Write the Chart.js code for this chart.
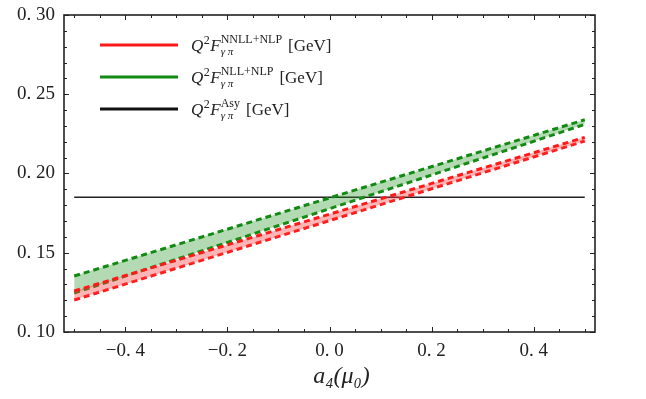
<!DOCTYPE html>
<html>
<head>
<meta charset="utf-8">
<script src="https://cdn.jsdelivr.net/npm/chart.js@4.4.1/dist/chart.umd.min.js"></script>
<style>
  html, body { margin: 0; padding: 0; background: #fff; }
  #grafica { display: block; }
</style>
</head>
<body>
<canvas id="grafica" width="646" height="399"></canvas>
<script>
// valores de a4 (eje x)
const a4Valores = [-0.5, 0, 0.5];
// bandas NNLL+NLP (rojo) y NLL+NLP (verde)
const nnllSuperior = [0.1259, 0.1743, 0.2228];
const nnllInferior = [0.1202, 0.1703, 0.2205];
const nllSuperior = [0.1353, 0.1846, 0.2339];
const nllInferior = [0.1246, 0.1778, 0.2310];
// resultado asintotico
const asyValores = [0.185, 0.185, 0.185];

// ticks
const xTicks = [-0.4, -0.2, 0, 0.2, 0.4];
const xTickEtiquetas = ['\u22120. 4', '\u22120. 2', '0. 0', '0. 2', '0. 4'];
const yTicks = [0.10, 0.15, 0.20, 0.25, 0.30];
const yTickEtiquetas = ['0. 10', '0. 15', '0. 20', '0. 25', '0. 30'];
const xTicksMenores = [-0.5, -0.45, -0.35, -0.3, -0.25, -0.15, -0.1, -0.05, 0.05, 0.1, 0.15, 0.25, 0.3, 0.35, 0.45, 0.5];
const yTicksMenores = [0.11, 0.12, 0.13, 0.14, 0.16, 0.17, 0.18, 0.19, 0.21, 0.22, 0.23, 0.24, 0.26, 0.27, 0.28, 0.29];

// leyenda
const leyendaColores = ['#ff1a1a', '#118a11', '#111111'];
const leyendaSup = ['NNLL+NLP', 'NLL+NLP', 'Asy'];

const fuente = "'Liberation Serif', 'DejaVu Serif', serif";

function puntos(valores) {
    return a4Valores.map((x, i) => ({ x: x, y: valores[i] }));
}

// marco y ticks hacia dentro en los cuatro lados
const marcoPlugin = {
    id: 'marco',
    afterDatasetsDraw(chart) {
        const ctx = chart.ctx;
        const area = chart.chartArea;
        const sx = chart.scales.x;
        const sy = chart.scales.y;
        ctx.save();
        ctx.strokeStyle = '#222';
        ctx.lineWidth = 1;
        const tickX = (v, largo) => {
            const px = Math.round(sx.getPixelForValue(v)) + 0.5;
            ctx.beginPath();
            ctx.moveTo(px, area.bottom); ctx.lineTo(px, area.bottom - largo);
            ctx.moveTo(px, area.top); ctx.lineTo(px, area.top + largo);
            ctx.stroke();
        };
        const tickY = (v, largo) => {
            const py = Math.round(sy.getPixelForValue(v)) + 0.5;
            ctx.beginPath();
            ctx.moveTo(area.left, py); ctx.lineTo(area.left + largo, py);
            ctx.moveTo(area.right, py); ctx.lineTo(area.right - largo, py);
            ctx.stroke();
        };
        xTicks.forEach(v => tickX(v, 5));
        xTicksMenores.forEach(v => tickX(v, 3));
        yTicks.forEach(v => tickY(v, 5));
        yTicksMenores.forEach(v => tickY(v, 3));
        ctx.lineWidth = 1.6;
        ctx.strokeRect(area.left, area.top, area.right - area.left, area.bottom - area.top);
        ctx.restore();
    }
};

// leyenda con super y subindices
const leyendaPlugin = {
    id: 'leyendaMath',
    afterDraw(chart) {
        const ctx = chart.ctx;
        const area = chart.chartArea;
        ctx.save();
        leyendaColores.forEach((color, i) => {
            const y = area.top + 30 + i * 32;
            ctx.strokeStyle = color;
            ctx.lineWidth = 3;
            ctx.beginPath();
            ctx.moveTo(area.left + 36, y);
            ctx.lineTo(area.left + 114, y);
            ctx.stroke();

            let x = area.left + 127;
            const base = y + 6;
            ctx.fillStyle = '#222';
            ctx.textBaseline = 'alphabetic';
            ctx.font = 'italic 17px ' + fuente;
            ctx.fillText('Q', x, base);
            x += ctx.measureText('Q').width + 0.5;
            ctx.font = '12px ' + fuente;
            ctx.fillText('2', x, base - 7);
            x += ctx.measureText('2').width + 0.5;
            ctx.font = 'italic 17px ' + fuente;
            ctx.fillText('F', x, base);
            x += ctx.measureText('F').width;
            ctx.font = '12px ' + fuente;
            ctx.fillText(leyendaSup[i], x, base - 8);
            const anchoSup = ctx.measureText(leyendaSup[i]).width;
            ctx.font = 'italic 11px ' + fuente;
            ctx.fillText('\u03b3 \u03c0', x, base + 4);
            const anchoSub = ctx.measureText('\u03b3 \u03c0').width;
            x += Math.max(anchoSup, anchoSub) + 6;
            ctx.font = '17px ' + fuente;
            ctx.fillText('[GeV]', x, base);
        });
        ctx.restore();
    }
};

const ctx = document.getElementById('grafica').getContext('2d');

new Chart(ctx, {
    type: 'line',
    data: {
        datasets: [
            {
                label: 'NNLL+NLP sup',
                data: puntos(nnllSuperior),
                borderColor: '#ff1a1a',
                borderDash: [6, 4],
                borderWidth: 3,
                backgroundColor: 'rgba(255, 60, 60, 0.38)',
                fill: '+1',
                pointRadius: 0
            },
            {
                label: 'NNLL+NLP inf',
                data: puntos(nnllInferior),
                borderColor: '#ff1a1a',
                borderDash: [6, 4],
                borderWidth: 3,
                fill: false,
                pointRadius: 0
            },
            {
                label: 'NLL+NLP sup',
                data: puntos(nllSuperior),
                borderColor: '#118a11',
                borderDash: [6, 4],
                borderWidth: 3,
                backgroundColor: 'rgba(40, 150, 40, 0.35)',
                fill: '+1',
                pointRadius: 0
            },
            {
                label: 'NLL+NLP inf',
                data: puntos(nllInferior),
                borderColor: '#118a11',
                borderDash: [6, 4],
                borderWidth: 3,
                fill: false,
                pointRadius: 0
            },
            {
                label: 'Asy',
                data: puntos(asyValores),
                borderColor: '#222',
                borderWidth: 1.6,
                fill: false,
                pointRadius: 0
            }
        ]
    },
    options: {
        responsive: false,
        animation: false,
        devicePixelRatio: 1,
        layout: { padding: { top: 15, right: 51, left: 0, bottom: 0 } },
        plugins: {
            legend: { display: false },
            tooltip: { enabled: false }
        },
        scales: {
            x: {
                type: 'linear',
                min: -0.52,
                max: 0.52,
                afterBuildTicks: (scale) => { scale.ticks = xTicks.map(v => ({ value: v })); },
                afterFit: (scale) => { scale.height = 67; },
                ticks: {
                    autoSkip: false,
                    maxRotation: 0,
                    padding: 0,
                    color: '#222',
                    font: { family: fuente, size: 19 },
                    callback: (v, i) => xTickEtiquetas[i]
                },
                grid: { display: false },
                border: { display: false },
                title: {
                    display: true,
                    text: '\u2003a\u2084(\u03bc\u2080)',
                    color: '#222',
                    font: { family: fuente, size: 24, style: 'italic' },
                    padding: { top: 0, bottom: 8 }
                }
            },
            y: {
                type: 'linear',
                min: 0.10,
                max: 0.30,
                afterBuildTicks: (scale) => { scale.ticks = yTicks.map(v => ({ value: v })); },
                afterFit: (scale) => { scale.width = 64; },
                ticks: {
                    autoSkip: false,
                    padding: 1,
                    color: '#222',
                    font: { family: fuente, size: 19 },
                    callback: (v, i) => yTickEtiquetas[i]
                },
                grid: { display: false },
                border: { display: false }
            }
        }
    },
    plugins: [marcoPlugin, leyendaPlugin]
});
</script>
</body>
</html>
